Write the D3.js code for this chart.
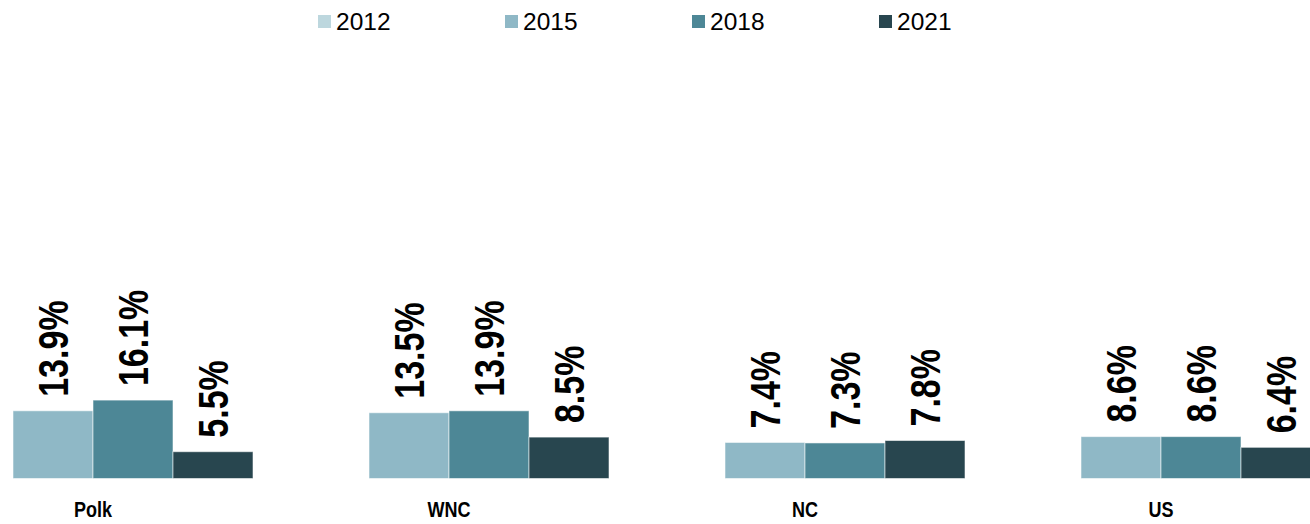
<!DOCTYPE html>
<html>
<head>
<meta charset="utf-8">
<script src="https://cdn.jsdelivr.net/npm/d3@7"></script>
<style>
  html, body { margin: 0; padding: 0; background: #ffffff; }
  svg { display: block; }
</style>
</head>
<body>
<svg id="chart" width="1310" height="524"></svg>
<script>
// ---- data ----
const categories = ["Polk", "WNC", "NC", "US"];
const years = ["2012", "2015", "2018", "2021"];
const values2012 = [null, null, null, null];
const values2015 = [13.9, 13.5, 7.4, 8.6];
const values2018 = [16.1, 13.9, 7.3, 8.6];
const values2021 = [5.5, 8.5, 7.8, 6.4];
const colors = ["#BDD7DE", "#8FB8C6", "#4D8796", "#28464F"];

const seriesValues = [values2012, values2015, values2018, values2021];

const svg = d3.select("#chart");
const W = 1310, H = 524;

// ---- scales ----
const x0 = d3.scaleBand()
  .domain(categories)
  .range([-85, 1339])
  .paddingInner(36 / 356)
  .paddingOuter(18 / 356);

const x1 = d3.scaleBand()
  .domain(years)
  .range([0, x0.bandwidth()])
  .padding(0);

const y = d3.scaleLinear()
  .domain([0, 90])
  .range([478.5, 40.2]);

const color = d3.scaleOrdinal().domain(years).range(colors);

// ---- bars ----
const rows = [];
categories.forEach((c, i) => {
  years.forEach((yr, j) => {
    const v = seriesValues[j][i];
    if (v !== null && v !== undefined) rows.push({ cat: c, year: yr, value: v });
  });
});

const g = svg.append("g");

g.selectAll("rect.bar")
  .data(rows)
  .join("rect")
  .attr("class", "bar")
  .attr("x", d => x0(d.cat) + x1(d.year))
  .attr("y", d => y(d.value))
  .attr("width", x1.bandwidth())
  .attr("height", d => y(0) - y(d.value))
  .attr("fill", d => color(d.year))
  .attr("stroke", "rgba(255,255,255,0.55)")
  .attr("stroke-width", 1);

// ---- value labels (rotated, narrow bold) ----
g.selectAll("text.val")
  .data(rows)
  .join("text")
  .attr("class", "val")
  .attr("transform", d => {
    const cx = x0(d.cat) + x1(d.year) + x1.bandwidth() / 2;
    const ty = y(d.value) - 14;
    return `translate(${cx},${ty}) rotate(-90) scale(0.81,1)`;
  })
  .attr("dy", "0.35em")
  .attr("text-anchor", "start")
  .attr("font-family", "'Liberation Sans', Arial, sans-serif")
  .attr("font-weight", "bold")
  .attr("font-size", 42)
  .attr("fill", "#000")
  .text(d => d.value.toFixed(1) + "%");

// ---- category labels ----
g.selectAll("text.cat")
  .data(categories)
  .join("text")
  .attr("class", "cat")
  .attr("transform", c => `translate(${x0(c) + x0.bandwidth() / 2},517) scale(0.82,1)`)
  .attr("text-anchor", "middle")
  .attr("font-family", "'Liberation Sans', Arial, sans-serif")
  .attr("font-weight", "bold")
  .attr("font-size", 22)
  .attr("fill", "#000")
  .text(c => c);

// ---- legend ----
const legendX = d3.scalePoint().domain(years).range([318, 879]);
const leg = svg.append("g")
  .selectAll("g.leg")
  .data(years)
  .join("g")
  .attr("class", "leg")
  .attr("transform", d => `translate(${legendX(d)},0)`);

leg.append("rect")
  .attr("x", 0)
  .attr("y", 15)
  .attr("width", 13)
  .attr("height", 13)
  .attr("fill", d => color(d));

leg.append("text")
  .attr("x", 18)
  .attr("y", 29.5)
  .attr("font-family", "'Liberation Sans', Arial, sans-serif")
  .attr("font-size", 24.5)
  .attr("fill", "#000")
  .text(d => d);
</script>
</body>
</html>
